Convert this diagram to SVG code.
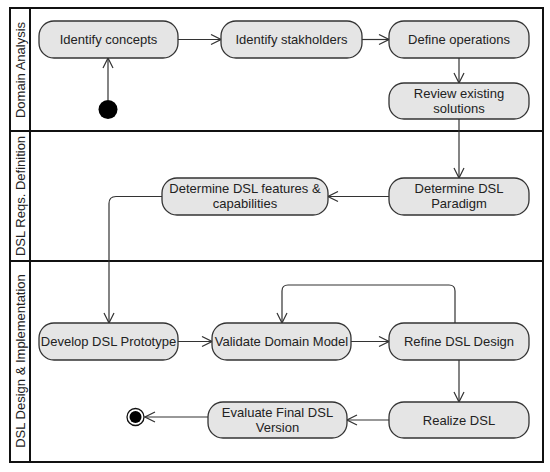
<svg xmlns="http://www.w3.org/2000/svg" width="550" height="472" viewBox="0 0 550 472">
<defs>
<marker id="arr" viewBox="0 0 12 12" refX="11" refY="6" markerWidth="12" markerHeight="12" markerUnits="userSpaceOnUse" orient="auto">
<path d="M1,1 L11,6 L1,11" fill="none" stroke="#333" stroke-width="1.2"/>
</marker>
</defs>
<style>
.lane{fill:none;stroke:#111;stroke-width:2}
.lt{font-family:"Liberation Sans",Arial,sans-serif;font-size:13px;fill:#222;text-anchor:middle}
.node rect{fill:#e5e5e5;stroke:#333;stroke-width:1.3}
.node text{font-family:"Liberation Sans",Arial,sans-serif;font-size:13px;fill:#222;text-anchor:middle}
.edge{fill:none;stroke:#333;stroke-width:1.2;marker-end:url(#arr)}
</style>
<rect width="550" height="472" fill="#fff"/>
<g id="lanes">
<rect class="lane" x="10" y="8" width="533" height="454"/>
<line class="lane" x1="30" y1="8" x2="30" y2="462"/>
<line class="lane" x1="10" y1="131" x2="543" y2="131"/>
<line class="lane" x1="10" y1="261" x2="543" y2="261"/>
<text class="lt" transform="translate(24.5,70) rotate(-90)">Domain Analysis</text>
<text class="lt" transform="translate(24.5,196) rotate(-90)">DSL Reqs. Definition</text>
<text class="lt" transform="translate(24.5,361) rotate(-90)">DSL Design &amp; Implementation</text>
</g>
<g id="connectors">
<path class="edge" d="M108,100 L108,58"/>
<path class="edge" d="M178,39.5 L221,39.5"/>
<path class="edge" d="M362,39.5 L389,39.5"/>
<path class="edge" d="M459,58 L459,83"/>
<path class="edge" d="M459,119 L459,178"/>
<path class="edge" d="M389,196.5 L328,196.5"/>
<path class="edge" d="M162,196.5 L116,196.5 Q109,196.5 109,203.5 L109,323"/>
<path class="edge" d="M178,341.5 L212,341.5"/>
<path class="edge" d="M351,341.5 L389,341.5"/>
<path class="edge" d="M455,323 L455,291 Q455,285 449,285 L288,285 Q282,285 282,291 L282,323"/>
<path class="edge" d="M459,360 L459,402"/>
<path class="edge" d="M389,420 L347,420"/>
<path class="edge" d="M208,417 L145,417"/>
</g>
<g id="start"><circle cx="108" cy="109.5" r="9.5" fill="#000"/></g>
<g id="end"><circle cx="135.5" cy="417" r="8.5" fill="#fff" stroke="#111" stroke-width="1.3"/><circle cx="135.5" cy="417" r="6" fill="#000"/></g>
<g id="n1" class="node"><rect x="39" y="21" width="139" height="37" rx="15"/><text x="108.5" y="44">Identify concepts</text></g>
<g id="n2" class="node"><rect x="221" y="21" width="141" height="37" rx="15"/><text x="291.5" y="44">Identify stakholders</text></g>
<g id="n3" class="node"><rect x="389" y="21" width="140" height="37" rx="15"/><text x="459" y="44">Define operations</text></g>
<g id="n4" class="node"><rect x="389" y="83" width="140" height="36" rx="15"/><text x="459" y="97.5">Review existing</text><text x="459" y="112.5">solutions</text></g>
<g id="n5" class="node"><rect x="389" y="178" width="140" height="37" rx="15"/><text x="459" y="193">Determine DSL</text><text x="459" y="208">Paradigm</text></g>
<g id="n6" class="node"><rect x="162" y="178" width="166" height="37" rx="15"/><text x="245" y="193">Determine DSL features &amp;</text><text x="245" y="208">capabilities</text></g>
<g id="n7" class="node"><rect x="39" y="323" width="139" height="37" rx="15"/><text x="108.5" y="346">Develop DSL Prototype</text></g>
<g id="n8" class="node"><rect x="212" y="323" width="139" height="37" rx="15"/><text x="281.5" y="346">Validate Domain Model</text></g>
<g id="n9" class="node"><rect x="389" y="323" width="140" height="37" rx="15"/><text x="459" y="346">Refine DSL Design</text></g>
<g id="n10" class="node"><rect x="389" y="402" width="140" height="36" rx="15"/><text x="459" y="424.5">Realize DSL</text></g>
<g id="n11" class="node"><rect x="208" y="402" width="139" height="36" rx="15"/><text x="277.5" y="416.5">Evaluate Final DSL</text><text x="277.5" y="431.5">Version</text></g>
</svg>
